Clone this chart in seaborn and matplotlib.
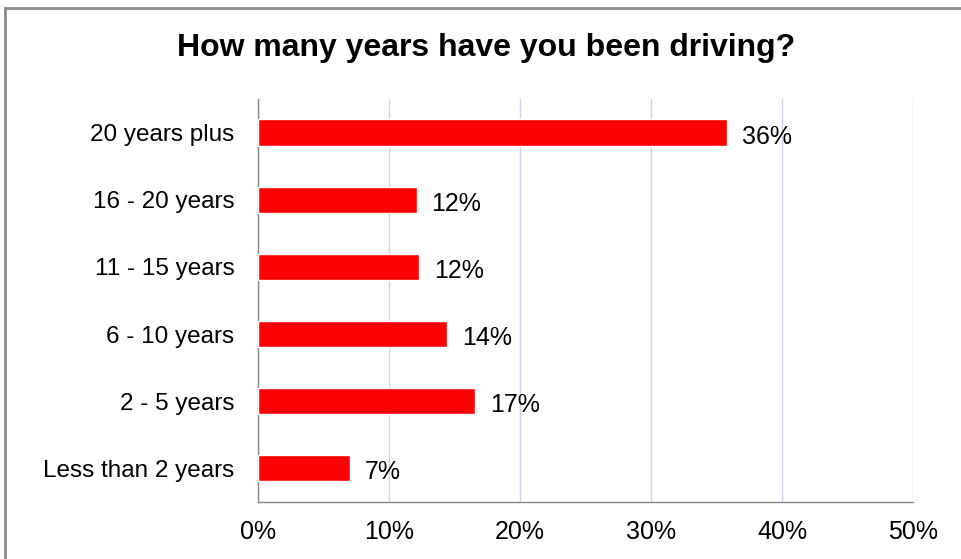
import pandas as pd
import seaborn as sns
import matplotlib.pyplot as plt
from matplotlib.patches import Rectangle
from matplotlib.ticker import FixedLocator, PercentFormatter

categories = ["20 years plus", "16 - 20 years", "11 - 15 years",
              "6 - 10 years", "2 - 5 years", "Less than 2 years"]
shares = [35.8, 12.1, 12.3, 14.4, 16.6, 7.0]
labels = ["36%", "12%", "12%", "14%", "17%", "7%"]

df = pd.DataFrame({"years": categories, "share": shares})

sns.set_style("white")
plt.rcParams["font.family"] = ["Liberation Sans", "DejaVu Sans"]
plt.rcParams["text.color"] = "black"
plt.rcParams["xtick.color"] = "#868686"
plt.rcParams["ytick.color"] = "#868686"
plt.rcParams["xtick.labelcolor"] = "black"
plt.rcParams["ytick.labelcolor"] = "black"

fig = plt.figure(figsize=(9.62, 5.59), dpi=100)
ax = fig.add_axes([0.2682, 0.102, 0.6809, 0.721])

sns.barplot(data=df, x="share", y="years", color="#ff0000", saturation=1,
            width=0.39, ax=ax, zorder=3)

for i, (v, lab) in enumerate(zip(shares, labels)):
    ax.text(v + 1.15, i + 0.06, lab, va="center", ha="left", fontsize=18,
            color="black")

ax.set_xlim(0, 50)
ax.set_ylim(5.5, -0.5)
ax.set_xticks([0, 10, 20, 30, 40, 50])
ax.xaxis.set_major_formatter(PercentFormatter(decimals=0))
ax.grid(axis="x", color="#c9d6ea", linewidth=1, zorder=0)
ax.set_axisbelow(True)

# ticks sit between the categories
ax.yaxis.set_major_locator(FixedLocator([i - 0.5 for i in range(7)]))
ax.set_yticklabels([])
ax.yaxis.set_minor_locator(FixedLocator(range(6)))
ax.set_yticklabels(categories, minor=True)
ax.tick_params(axis="y", which="minor", length=0, pad=17, labelsize=17.5)
ax.tick_params(axis="y", which="major", length=6, width=1)
ax.tick_params(axis="x", length=6, width=1, labelsize=18, pad=7)

ax.set_xlabel("")
ax.set_ylabel("")
for side in ["top", "right"]:
    ax.spines[side].set_visible(False)
for side in ["left", "bottom"]:
    ax.spines[side].set_color("#868686")
    ax.spines[side].set_linewidth(1)

fig.text(0.505, 0.914, "How many years have you been driving?", ha="center",
         va="center", fontsize=23, fontweight="bold")

fig.patches.append(Rectangle((5 / 962, -0.1), 1.2, 1 - 8 / 559 + 0.1,
                             transform=fig.transFigure, fill=False,
                             edgecolor="#8c8c8c", linewidth=2))

fig.savefig("out.png", dpi=100)
